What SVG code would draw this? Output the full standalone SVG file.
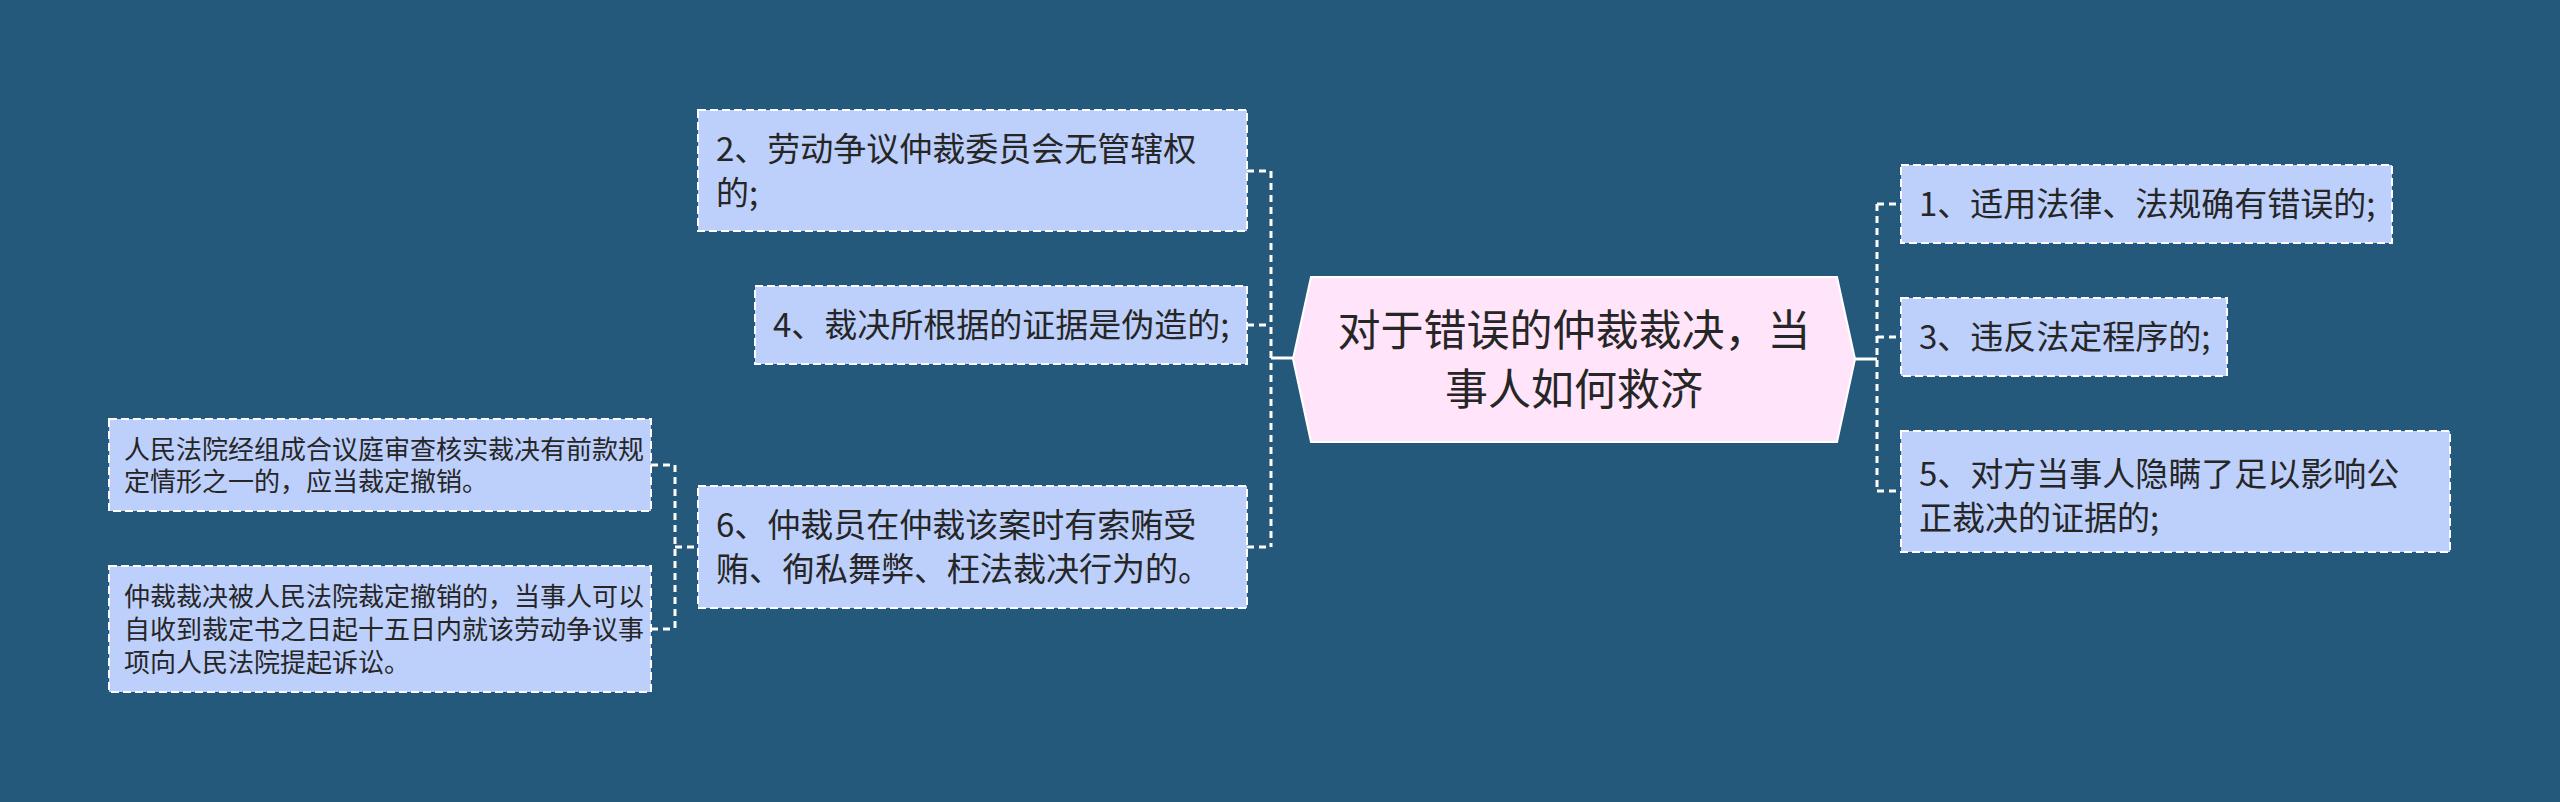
<svg xmlns="http://www.w3.org/2000/svg" width="2560" height="802" viewBox="0 0 2560 802">
<style>
.bg{fill:#24597C}
.box{fill:#BDD0FB;stroke:#FFFFFF;stroke-width:2;stroke-dasharray:8 4}
.center{fill:#FFE4FA;stroke:#FFFFFF;stroke-width:2}
.t{font-family:"Noto Sans CJK SC","Noto Sans",sans-serif;fill:#262626}
.m{font-size:33px}
.s{font-size:26px}
.c{font-size:43px;text-anchor:middle}
.dash{fill:none;stroke:#FFFFFF;stroke-width:3;stroke-dasharray:7 5}
.solid{fill:none;stroke:#FFFFFF;stroke-width:3}
</style>
<rect class="bg" x="0" y="0" width="2560" height="802"/>
<g id="connectors">
<path class="dash" d="M1271 171 V547 M1247 171 H1271 M1247 325 H1271 M1247 547 H1271"/>
<path class="solid" d="M1271 358 H1293"/>
<path class="dash" d="M1877 204 V491 M1877 204 H1901 M1877 337 H1901 M1877 491 H1901"/>
<path class="solid" d="M1855 359 H1877"/>
<path class="dash" d="M675 465 V629 M651 465 H675 M651 629 H675 M675 547 H699"/>
</g>
<g id="center">
<polygon class="center" points="1293,359 1311,277 1837,277 1855,359 1837,442 1311,442"/>
<text class="t c" x="1574" y="346">对于错误的仲裁裁决，当</text>
<text class="t c" x="1574" y="405">事人如何救济</text>
</g>
<g id="n2">
<rect class="box" x="698" y="110" width="549" height="121"/>
<text class="t m" x="716" y="161">2、劳动争议仲裁委员会无管辖权</text>
<text class="t m" x="716" y="205">的;</text>
</g>
<g id="n4">
<rect class="box" x="755" y="286" width="492" height="78"/>
<text class="t m" x="773" y="337">4、裁决所根据的证据是伪造的;</text>
</g>
<g id="n6">
<rect class="box" x="698" y="486" width="549" height="122"/>
<text class="t m" x="716" y="537">6、仲裁员在仲裁该案时有索贿受</text>
<text class="t m" x="716" y="581">贿、徇私舞弊、枉法裁决行为的。</text>
</g>
<g id="nA">
<rect class="box" x="109" y="419" width="542" height="92"/>
<text class="t s" x="124" y="459">人民法院经组成合议庭审查核实裁决有前款规</text>
<text class="t s" x="124" y="491">定情形之一的，应当裁定撤销。</text>
</g>
<g id="nB">
<rect class="box" x="109" y="566" width="542" height="126"/>
<text class="t s" x="124" y="606">仲裁裁决被人民法院裁定撤销的，当事人可以</text>
<text class="t s" x="124" y="639">自收到裁定书之日起十五日内就该劳动争议事</text>
<text class="t s" x="124" y="672">项向人民法院提起诉讼。</text>
</g>
<g id="n1">
<rect class="box" x="1901" y="165" width="491" height="78"/>
<text class="t m" x="1919" y="216">1、适用法律、法规确有错误的;</text>
</g>
<g id="n3">
<rect class="box" x="1901" y="298" width="326" height="78"/>
<text class="t m" x="1919" y="349">3、违反法定程序的;</text>
</g>
<g id="n5">
<rect class="box" x="1901" y="431" width="549" height="121"/>
<text class="t m" x="1919" y="486">5、对方当事人隐瞒了足以影响公</text>
<text class="t m" x="1919" y="530">正裁决的证据的;</text>
</g>
</svg>
